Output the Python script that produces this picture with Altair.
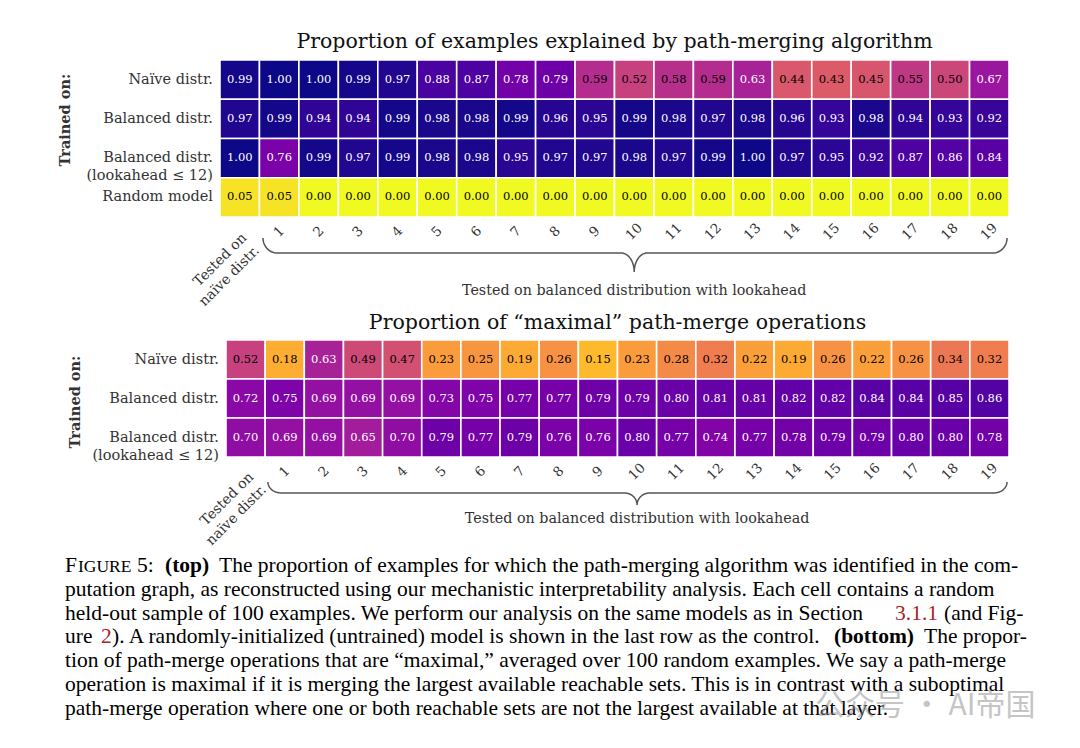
import altair as alt
import pandas as pd
import numpy as np

# ---------------- data ----------------
col_labels = ["Tested on\nnaïve distr."] + [str(i) for i in range(1, 20)]
top_title = "Proportion of examples explained by path-merging algorithm"
bottom_title = "Proportion of “maximal” path-merge operations"
row_labels_top = ["Naïve distr.", "Balanced distr.", "Balanced distr.\n(lookahead ≤ 12)", "Random model"]
row_labels_bottom = ["Naïve distr.", "Balanced distr.", "Balanced distr.\n(lookahead ≤ 12)"]
y_axis_title = "Trained on:"
x_group_title = "Tested on balanced distribution with lookahead"

top_naive = [0.99, 1.00, 1.00, 0.99, 0.97, 0.88, 0.87, 0.78, 0.79, 0.59,
             0.52, 0.58, 0.59, 0.63, 0.44, 0.43, 0.45, 0.55, 0.50, 0.67]
top_balanced = [0.97, 0.99, 0.94, 0.94, 0.99, 0.98, 0.98, 0.99, 0.96, 0.95,
                0.99, 0.98, 0.97, 0.98, 0.96, 0.93, 0.98, 0.94, 0.93, 0.92]
top_balanced12 = [1.00, 0.76, 0.99, 0.97, 0.99, 0.98, 0.98, 0.95, 0.97, 0.97,
                  0.98, 0.97, 0.99, 1.00, 0.97, 0.95, 0.92, 0.87, 0.86, 0.84]
top_random = [0.05, 0.05, 0.00, 0.00, 0.00, 0.00, 0.00, 0.00, 0.00, 0.00,
              0.00, 0.00, 0.00, 0.00, 0.00, 0.00, 0.00, 0.00, 0.00, 0.00]

bot_naive = [0.52, 0.18, 0.63, 0.49, 0.47, 0.23, 0.25, 0.19, 0.26, 0.15,
             0.23, 0.28, 0.32, 0.22, 0.19, 0.26, 0.22, 0.26, 0.34, 0.32]
bot_balanced = [0.72, 0.75, 0.69, 0.69, 0.69, 0.73, 0.75, 0.77, 0.77, 0.79,
                0.79, 0.80, 0.81, 0.81, 0.82, 0.82, 0.84, 0.84, 0.85, 0.86]
bot_balanced12 = [0.70, 0.69, 0.69, 0.65, 0.70, 0.79, 0.77, 0.79, 0.76, 0.76,
                  0.80, 0.77, 0.74, 0.77, 0.78, 0.79, 0.79, 0.80, 0.80, 0.78]

caption_segments = [
    [("F", "sc_big"), ("IGURE", "sc_small"), ("5:", "normal"), ("(top)", "bold"),
     ("The proportion of examples for which the path-merging algorithm was identified in the com-", "normal")],
    [("putation graph, as reconstructed using our mechanistic interpretability analysis. Each cell contains a random", "normal")],
    [("held-out sample of 100 examples. We perform our analysis on the same models as in Section", "normal"),
     ("3.1.1", "red"), ("(and Fig-", "normal")],
    [("ure", "normal"), ("2", "red"),
     ("). A randomly-initialized (untrained) model is shown in the last row as the control.", "normal"),
     ("(bottom)", "bold"), ("The propor-", "normal")],
    [("tion of path-merge operations that are “maximal,” averaged over 100 random examples. We say a path-merge", "normal")],
    [("operation is maximal if it is merging the largest available reachable sets. This is in contrast with a suboptimal", "normal")],
    [("path-merge operation where one or both reachable sets are not the largest available at that layer.", "normal")],
]
watermark = "公众号 · AI帝国"

# ---------------- layout (pixels / units) ----------------
PW, PH = 1064, 732
OFF = 8
caption_seg_x = [[65, 78, 137, 165, 219], [65], [65, 895, 944], [65, 101, 112, 834, 924], [65], [65], [65]]
caption_base0, caption_lh = 572, 23.8


def dom(origin, unit, size):
    return [-(origin - OFF) / unit, (size - (origin - OFF)) / unit]


TOP_XD = dom(220, 39.45, PW)
TOP_YD = dom(60, 39.25, PH)
BOT_XD = dom(226, 39.15, PW)
BOT_YD = dom(340, 39.0, PH)
CAP_XD = [OFF, PW + OFF]
CAP_YD = dom(caption_base0, caption_lh, PH)

SERIF = "DejaVu Serif"
LABEL_COLOR = "#333333"


def X(field, d):
    return alt.X(field, type="quantitative", scale=alt.Scale(domain=d, nice=False, zero=False), axis=None)


def Y(field, d):
    return alt.Y(field, type="quantitative", scale=alt.Scale(domain=d, nice=False, zero=False, reverse=True), axis=None)


color_scale = alt.Scale(scheme="plasma", reverse=True, domain=[0, 1])


def heat_layers(rows, row_labels, title, XD, YD, tick_y, naive_xy, brace, title_y, group_y, trained_xy):
    recs = []
    for r, vals in enumerate(rows):
        for c, v in enumerate(vals):
            recs.append({"col": c, "col2": c + 1, "row": r, "row2": r + 1,
                         "xc": c + 0.5, "yc": r + 0.5, "v": v})
    df = pd.DataFrame(recs)
    rect = alt.Chart(df).mark_rect(stroke="white", strokeWidth=1.6).encode(
        x=X("col", XD), x2="col2", y=Y("row", YD), y2="row2",
        color=alt.Color("v:Q", scale=color_scale, legend=None))
    txt = alt.Chart(df).mark_text(font=SERIF, fontSize=11.5, baseline="middle", align="center").encode(
        x=X("xc", XD), y=Y("yc", YD), text=alt.Text("v:Q", format=".2f"),
        color=alt.condition(alt.datum.v > 0.6, alt.value("white"), alt.value("black")))

    rl = pd.DataFrame({"label": row_labels, "x": -0.18, "y": [i + 0.5 for i in range(len(row_labels))]})
    rlab = alt.Chart(rl).mark_text(font=SERIF, fontSize=14.5, align="right", baseline="middle",
                                   lineBreak="\n", lineHeight=18, color=LABEL_COLOR).encode(
        x=X("x", XD), y=Y("y", YD), text="label:N")

    tk = pd.DataFrame({"label": col_labels[1:], "x": [i + 0.5 for i in range(1, 20)], "y": tick_y})
    ticks = alt.Chart(tk).mark_text(font=SERIF, fontSize=13.5, align="center", baseline="middle",
                                    angle=315, color=LABEL_COLOR).encode(
        x=X("x", XD), y=Y("y", YD), text="label:N")

    nv = pd.DataFrame({"label": [col_labels[0]], "x": [naive_xy[0]], "y": [naive_xy[1]]})
    naive = alt.Chart(nv).mark_text(font=SERIF, fontSize=14, align="right", baseline="middle",
                                    angle=315, lineBreak="\n", lineHeight=18, color=LABEL_COLOR).encode(
        x=X("x", XD), y=Y("y", YD), text="label:N")

    # brace
    xl, xr, xm, yt, yh, ytip, rx, rxm = brace
    t = np.linspace(0, np.pi / 2, 16)
    pts = []
    pts += list(zip(xl + rx - rx * np.cos(t), yt + (yh - yt) * np.sin(t)))
    pts += list(zip(xm - rxm + rxm * np.sin(t), ytip - (ytip - yh) * np.cos(t)))
    pts += list(zip(xm + rxm - rxm * np.sin(t[::-1]), ytip - (ytip - yh) * np.cos(t[::-1])))
    pts += list(zip(xr - rx + rx * np.cos(t[::-1]), yt + (yh - yt) * np.sin(t[::-1])))
    bd = pd.DataFrame({"x": [p[0] for p in pts], "y": [p[1] for p in pts], "o": range(len(pts))})
    br = alt.Chart(bd).mark_line(color="#555555", strokeWidth=1.5).encode(
        x=X("x", XD), y=Y("y", YD), order="o:Q")

    tt = pd.DataFrame({"label": [title], "x": [10.0], "y": [title_y]})
    ttl = alt.Chart(tt).mark_text(font=SERIF, fontSize=20.5, align="center", baseline="alphabetic",
                                  color="#111111").encode(x=X("x", XD), y=Y("y", YD), text="label:N")

    gt = pd.DataFrame({"label": [x_group_title], "x": [10.5], "y": [group_y]})
    gtl = alt.Chart(gt).mark_text(font=SERIF, fontSize=14.3, align="center", baseline="alphabetic",
                                  color=LABEL_COLOR).encode(x=X("x", XD), y=Y("y", YD), text="label:N")

    tr = pd.DataFrame({"label": [y_axis_title], "x": [trained_xy[0]], "y": [trained_xy[1]]})
    trl = alt.Chart(tr).mark_text(font=SERIF, fontSize=14.5, fontWeight="bold", align="center",
                                  baseline="middle", angle=270, color=LABEL_COLOR).encode(
        x=X("x", XD), y=Y("y", YD), text="label:N")
    return [rect, txt, rlab, ticks, naive, br, ttl, gtl, trl]


top_layers = heat_layers([top_naive, top_balanced, top_balanced12, top_random], row_labels_top, top_title,
                         TOP_XD, TOP_YD, 4.38, (0.62, 4.48),
                         (1.09, 19.95, 10.5, 4.535, 4.917, 5.40, 0.36, 0.33), -0.31, 5.99, (-3.9, 1.53))
bot_layers = heat_layers([bot_naive, bot_balanced, bot_balanced12], row_labels_bottom, bottom_title,
                         BOT_XD, BOT_YD, 3.38, (0.65, 3.46),
                         (1.07, 19.95, 10.5, 3.64, 3.92, 4.23, 0.33, 0.33), -0.28, 4.69, (-3.82, 1.59))

# caption
recs = []
for li, segs in enumerate(caption_segments):
    for si, (txt_, style) in enumerate(segs):
        recs.append({"text": txt_, "style": style, "x": caption_seg_x[li][si], "y": li})
cap = pd.DataFrame(recs)
CAP_FONT = "Liberation Serif"
styles = {
    "normal": dict(fontSize=21.5, color="black"),
    "bold": dict(fontSize=21.5, color="black", fontWeight="bold"),
    "red": dict(fontSize=21.5, color="#a8231f"),
    "sc_big": dict(fontSize=21.5, color="black"),
    "sc_small": dict(fontSize=17.5, color="black"),
}
cap_layers = []
for st, kw in styles.items():
    cap_layers.append(
        alt.Chart(cap).transform_filter(alt.datum.style == st).mark_text(
            font=CAP_FONT, align="left", baseline="alphabetic", **kw).encode(
            x=X("x", CAP_XD), y=Y("y", CAP_YD), text="text:N"))

wm = pd.DataFrame({"text": [watermark], "x": [815], "y": [6.0]})
wm_layer = alt.Chart(wm).mark_text(font="Noto Sans CJK SC", fontSize=30, align="left", baseline="alphabetic",
                                   color="#8c8c8c", opacity=0.5).encode(
    x=X("x", CAP_XD), y=Y("y", CAP_YD), text="text:N")

chart = alt.layer(*top_layers, *bot_layers, *cap_layers, wm_layer).resolve_scale(
    x="independent", y="independent"
).properties(width=PW, height=PH, padding=0, autosize="none", background="white"
             ).configure_view(stroke=None)

chart.save("out.html", embed_options={"renderer": "svg", "actions": False})
